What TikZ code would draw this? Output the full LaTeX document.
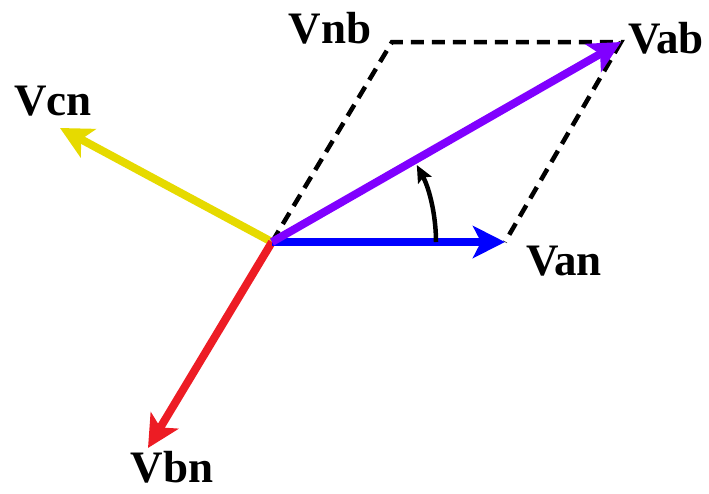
\documentclass[tikz,border=0pt]{standalone}
\usepackage{fontspec}
\setmainfont{Liberation Serif}
\usetikzlibrary{arrows.meta}
\definecolor{vpurple}{RGB}{128,0,255}
\definecolor{vyellow}{RGB}{230,218,0}
\definecolor{vred}{RGB}{237,28,36}
\definecolor{vblue}{RGB}{0,0,255}
\begin{document}
\begin{tikzpicture}[x=1pt, y=-1pt,
  phasor/.style={line width=8pt, -{Stealth[length=32pt, width=32pt, inset=8pt]}},
  helper/.style={line width=4.5pt, dash pattern=on 13pt off 8pt},
  turn/.style={line width=4.5pt, -{Stealth[length=17pt, width=15pt, inset=3pt]}},
  lbl/.style={font=\bfseries\fontsize{45}{45}\selectfont, inner sep=0pt}]
\useasboundingbox (0,0) rectangle (709,493);
\coordinate (o) at (272,242);
\coordinate (an) at (505,242);
\coordinate (ab) at (621,42);
\coordinate (nb) at (392,42);
\coordinate (cn) at (60,128);
\coordinate (bn) at (148,448);
\coordinate (arcstart) at (436,242);
% labels
\node[lbl] (lnb) at (330,28) {Vnb};
\node[lbl] (lab) at (666,38) {Vab};
\node[lbl] (lan) at (564,261) {Van};
\node[lbl] (lcn) at (53,101) {Vcn};
\node[lbl] (lbn) at (172,467) {Vbn};
% parallelogram
\draw[helper] (o) -- (nb) -- (ab) -- (an);
% phasors
\draw[phasor, vyellow] (o) -- (cn);
\draw[phasor, vred] (o) -- (bn);
\draw[phasor, vblue] (o) -- (an);
\draw[phasor, vpurple] (o) -- (ab);
\draw[turn] (arcstart) arc[start angle=0, end angle=-28, radius=164];
\end{tikzpicture}
\end{document}
